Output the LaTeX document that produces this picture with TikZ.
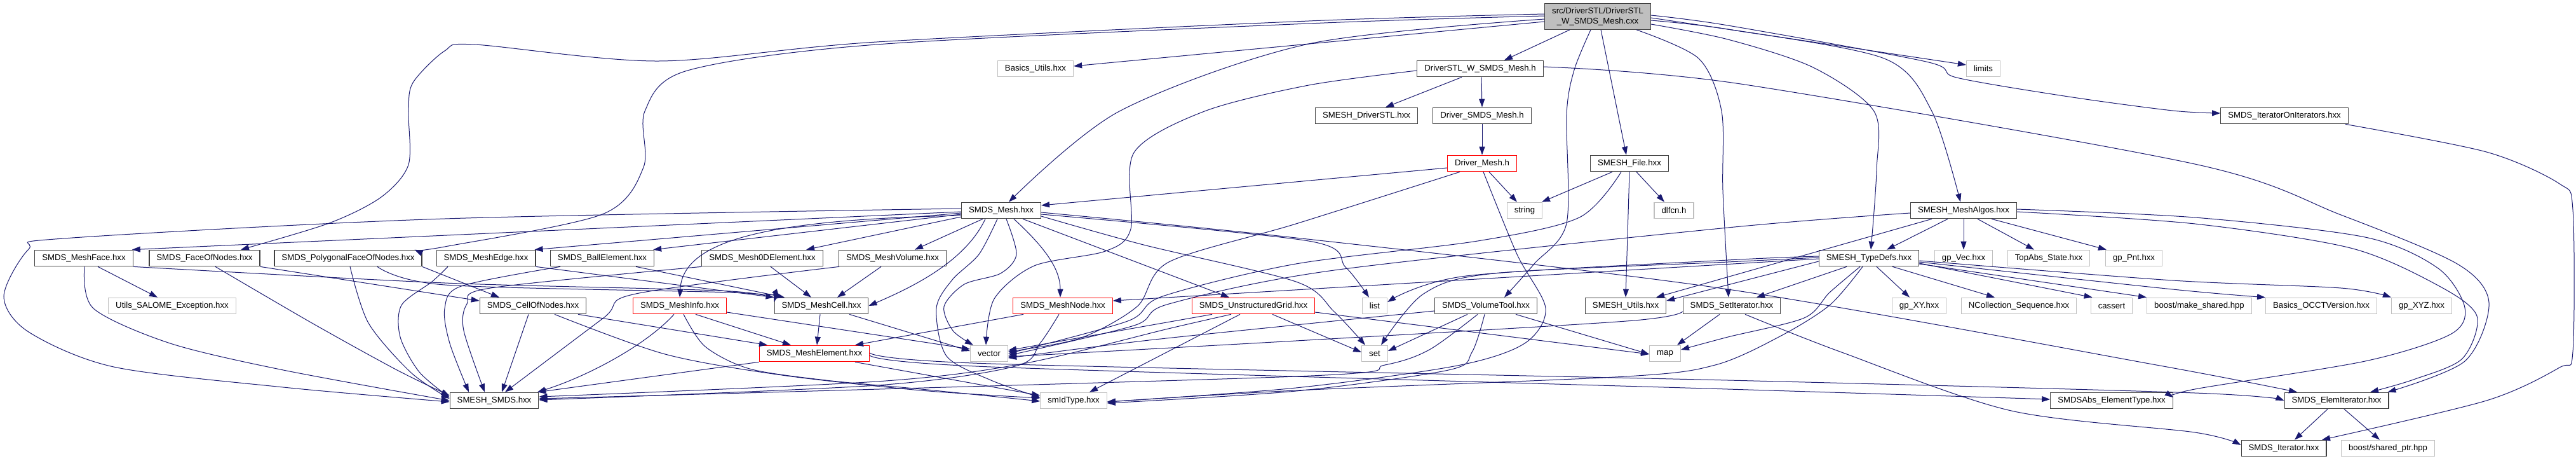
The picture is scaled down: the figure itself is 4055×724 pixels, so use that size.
\documentclass[tikz,border=0pt]{standalone}
\usepackage{fontspec}
\setmainfont{Liberation Sans}
\usetikzlibrary{arrows.meta}
\definecolor{edgeblue}{HTML}{191970}
\definecolor{boxgray}{HTML}{BFBFBF}
\definecolor{boxline}{HTML}{404040}
\tikzset{
    filebox/.style={rectangle, minimum height=25.5pt, inner xsep=11.5pt, inner ysep=0pt, line width=1.2pt, fill=white, font=\fontsize{13.2}{15.2}\selectfont},
    hdr/.style={filebox, draw=boxline},
    ext/.style={filebox, draw=boxgray},
    trunc/.style={filebox, draw=red},
    rootbox/.style={filebox, draw=boxline, fill=boxgray, align=center, minimum height=40.5pt},
    dep/.style={draw=edgeblue, line width=1pt, -{Triangle[length=13pt,width=9pt]}}
}

\begin{document}
\begin{tikzpicture}[x=1pt, y=-1pt]
    \useasboundingbox (0,0) rectangle (4055,724);

    % files
    \node[rootbox] (root) at (2515,26) {src/DriverSTL/DriverSTL\\\_W\_SMDS\_Mesh.cxx};

    \node[ext] (basics) at (1630,108) {Basics\_Utils.hxx};
    \node[hdr] (dsh) at (2330,108) {DriverSTL\_W\_SMDS\_Mesh.h};
    \node[ext] (limits) at (3122,108) {limits};

    \node[hdr] (driverstl) at (2151,182) {SMESH\_DriverSTL.hxx};
    \node[hdr] (driversmds) at (2333,182) {Driver\_SMDS\_Mesh.h};
    \node[hdr] (iteroniter) at (3596,182) {SMDS\_IteratorOnIterators.hxx};

    \node[trunc] (drivermesh) at (2333,257) {Driver\_Mesh.h};
    \node[hdr] (smeshfile) at (2565,257) {SMESH\_File.hxx};

    \node[hdr] (smdsmesh) at (1576,331) {SMDS\_Mesh.hxx};
    \node[ext] (string) at (2400,331) {string};
    \node[ext] (dlfcn) at (2635,331) {dlfcn.h};
    \node[hdr] (meshalgos) at (3091,331) {SMESH\_MeshAlgos.hxx};

    \node[hdr] (meshface) at (132,406) {SMDS\_MeshFace.hxx};
    \node[hdr] (faceofnodes) at (322,406) {SMDS\_FaceOfNodes.hxx};
    \node[hdr] (polyface) at (548,406) {SMDS\_PolygonalFaceOfNodes.hxx};
    \node[hdr] (meshedge) at (765,406) {SMDS\_MeshEdge.hxx};
    \node[hdr] (ballelem) at (948,406) {SMDS\_BallElement.hxx};
    \node[hdr] (mesh0d) at (1200,406) {SMDS\_Mesh0DElement.hxx};
    \node[hdr] (meshvolume) at (1405,406) {SMDS\_MeshVolume.hxx};
    \node[hdr] (typedefs) at (2942,406) {SMESH\_TypeDefs.hxx};
    \node[ext] (gpvec) at (3091,406) {gp\_Vec.hxx};
    \node[ext] (topabs) at (3225,406) {TopAbs\_State.hxx};
    \node[ext] (gppnt) at (3359,406) {gp\_Pnt.hxx};

    \node[ext] (saloexc) at (271,481) {Utils\_SALOME\_Exception.hxx};
    \node[hdr] (cellofnodes) at (839,481) {SMDS\_CellOfNodes.hxx};
    \node[trunc] (meshinfo) at (1070,481) {SMDS\_MeshInfo.hxx};
    \node[hdr] (meshcell) at (1293,481) {SMDS\_MeshCell.hxx};
    \node[trunc] (meshnode) at (1673,481) {SMDS\_MeshNode.hxx};
    \node[trunc] (ugrid) at (1973,481) {SMDS\_UnstructuredGrid.hxx};
    \node[ext] (list) at (2164,481) {list};
    \node[hdr] (volumetool) at (2339,481) {SMDS\_VolumeTool.hxx};
    \node[hdr] (smeshutils) at (2559,481) {SMESH\_Utils.hxx};
    \node[hdr] (setiter) at (2726,481) {SMDS\_SetIterator.hxx};
    \node[ext] (gpxy) at (3021,481) {gp\_XY.hxx};
    \node[ext] (ncollseq) at (3178,481) {NCollection\_Sequence.hxx};
    \node[ext] (cassert) at (3324,481) {cassert};
    \node[ext] (makeshared) at (3462,481) {boost/make\_shared.hpp};
    \node[ext] (occtver) at (3654,481) {Basics\_OCCTVersion.hxx};
    \node[ext] (gpxyz) at (3812,481) {gp\_XYZ.hxx};

    \node[trunc] (meshelem) at (1282,556) {SMDS\_MeshElement.hxx};
    \node[ext] (vector) at (1557,556) {vector};
    \node[ext] (set) at (2164,556) {set};
    \node[ext] (map) at (2621,556) {map};

    \node[hdr] (smeshsmds) at (778,630) {SMESH\_SMDS.hxx};
    \node[ext] (smidtype) at (1690,630) {smIdType.hxx};
    \node[hdr] (sabsetype) at (3324,630) {SMDSAbs\_ElementType.hxx};
    \node[hdr] (elemiter) at (3678,630) {SMDS\_ElemIterator.hxx};

    \node[hdr] (smdsiter) at (3595,705) {SMDS\_Iterator.hxx};
    \node[ext] (sharedptr) at (3759,705) {boost/shared\_ptr.hpp};

    % includes of the .cxx file
    \draw[dep] ([xshift=-44pt]root.south) -- ([xshift=38pt]dsh.north);
    \draw[dep] ([yshift=-8pt]root.west) -- ([yshift=4pt]basics.east);
    \draw[dep] plot[smooth] coordinates {([yshift=4pt]root.west) (2060,33) (1380,66) (1037,96) (747,70) (700,80) (650,130) (643,175) (643,259) (600,310) (518,351) ([xshift=57pt]faceofnodes.north)};
    \draw[dep] plot[smooth] coordinates {([yshift=1pt]root.west) (2060,37) (1380,70) (1082,111) (1015,175) (1013,263) (948,337) (700,388) ([xshift=-12pt]polyface.north east)};
    \draw[dep] plot[smooth] coordinates {([yshift=-4pt]root.west) (2060,69) (1762,175) ([xshift=12pt]smdsmesh.north)};
    \draw[dep] plot[smooth] coordinates {([xshift=-11pt]root.south) (2478,110) (2466,180) (2466,351) (2415,415) ([xshift=29pt]volumetool.north)};
    \draw[dep] ([xshift=5pt]root.south) -- ([xshift=-5pt]smeshfile.north);
    \draw[dep] plot[smooth] coordinates {([xshift=61pt]root.south) (2674,92) (2710,175) (2712,300) ([xshift=-5pt]setiter.north)};
    \draw[dep] plot[smooth] coordinates {([yshift=-12pt]root.east) (2720,62) (2854,106) (2950,175) (2954,268) ([xshift=3pt]typedefs.north)};
    \draw[dep] plot[smooth] coordinates {([yshift=-6pt]root.east) (2720,46) (2966,92) (3041,175) ([xshift=-5pt]meshalgos.north)};
    \draw[dep] ([yshift=-2pt]root.east) -- ([yshift=6pt]limits.west);
    \draw[dep] plot[smooth] coordinates {([yshift=2pt]root.east) (2720,40) (3032,97) (3080,122) (3256,152) (3420,174) ([yshift=4pt]iteroniter.west)};

    % driver headers
    \draw[dep] ([xshift=-29pt]dsh.south) -- ([xshift=30pt]driverstl.north);
    \draw[dep] ([xshift=2pt]dsh.south) -- (driversmds.north);
    \draw[dep] plot[smooth] coordinates {([yshift=-3pt]dsh.west) (2060,134) (1896,175) (1785,240) (1780,360) (1740,395) (1628,418) (1565,470) ([xshift=-5pt]vector.north)};
    \draw[dep] plot[smooth] coordinates {([yshift=3pt]dsh.east) (2740,132) (3455,258) (3685,338) (3868,415) (3918,476) (3880,568) ([xshift=-2pt]elemiter.north east)};
    \draw[dep] (driversmds) -- (drivermesh);
    \draw[dep] ([xshift=11pt]drivermesh.south) -- ([xshift=-12pt]string.north);
    \draw[dep] ([yshift=-7pt]drivermesh.west) -- ([yshift=8pt]smdsmesh.east);
    \draw[dep] plot[smooth] coordinates {([xshift=-35pt]drivermesh.south) (2040,352) (1840,412) (1790,482) (1700,532) ([yshift=3pt]vector.east)};
    \draw[dep] plot[smooth] coordinates {([xshift=2pt]drivermesh.south) (2388,400) (2433,485) (2400,540) (2294,575) (2040,610) ([yshift=-2pt]smidtype.east)};
    \draw[dep] ([xshift=-27pt]smeshfile.south) -- ([xshift=27pt]string.north);
    \draw[dep] ([xshift=11pt]smeshfile.south) -- ([xshift=-15pt]dlfcn.north);
    \draw[dep] (smeshfile.south) -- (smeshutils.north);
    \draw[dep] plot[smooth] coordinates {([xshift=-13pt]smeshfile.south) (2486,342) (2326,379) (2040,415) (1830,466) (1775,505) (vector.east)};

    % SMDS_Mesh.hxx
    \draw[dep] ([yshift=-2pt]smdsmesh.west) -- ([xshift=-2pt]meshface.north east);
    \draw[dep] plot[smooth] coordinates {([yshift=3pt]smdsmesh.west) (700,344) (100,375) (45,392) (6,466) (45,522) (179,577) (446,609) ([yshift=-2pt]smeshsmds.west)};
    \draw[dep] ([yshift=-4pt]smdsmesh.west) -- ([xshift=-2pt]meshedge.north east);
    \draw[dep] ([yshift=-6pt]smdsmesh.west) -- ([xshift=-2pt]ballelem.north east);
    \draw[dep] ([yshift=-10pt]smdsmesh.west) -- ([xshift=69pt]mesh0d.north);
    \draw[dep] ([xshift=-29pt]smdsmesh.south) -- ([xshift=35pt]meshvolume.north);
    \draw[dep] ([xshift=-25pt]smdsmesh.south) .. controls (1520,410) and (1440,450) .. (meshcell.east);
    \draw[dep] ([yshift=-8pt]smdsmesh.west) .. controls (1200,345) and (1075,380) .. (meshinfo.north);
    \draw[dep] ([xshift=20pt]smdsmesh.south) .. controls (1640,385) and (1669,420) .. ([xshift=-4pt]meshnode.north);
    \draw[dep] ([xshift=34pt]smdsmesh.south) -- ([xshift=-38pt]ugrid.north);
    \draw[dep] plot[smooth] coordinates {([xshift=8pt]smdsmesh.south) (1600,400) (1575,430) (1518,447) (1486,482) (1500,520) ([xshift=-25pt]vector.north)};
    \draw[dep] plot[smooth] coordinates {([xshift=-6pt]smdsmesh.south) (1541,400) (1499,440) (1474,485) (1490,560) (1560,598) ([yshift=5pt]smidtype.west)};
    \draw[dep] plot[smooth] coordinates {([yshift=-6pt]smdsmesh.east) (2060,379) (2118,420) ([xshift=-9pt]list.north)};
    \draw[dep] plot[smooth] coordinates {([yshift=-9pt]smdsmesh.east) (1800,385) (2040,443) (2100,490) ([xshift=-15pt]set.north)};
    \draw[dep] plot[smooth] coordinates {([yshift=-3pt]smdsmesh.east) (2040,374) (2720,455) (3400,575) ([xshift=-62pt]elemiter.north)};

    % SMESH_MeshAlgos.hxx
    \draw[dep] ([xshift=-25pt]meshalgos.south) -- ([xshift=28pt]typedefs.north);
    \draw[dep] (meshalgos.south) -- (gpvec.north);
    \draw[dep] ([xshift=22pt]meshalgos.south) -- ([xshift=-23pt]topabs.north);
    \draw[dep] ([xshift=44pt]meshalgos.south) -- ([xshift=2pt]gppnt.north west);
    \draw[dep] plot[smooth] coordinates {([yshift=-4pt]meshalgos.west) (2720,358) (2100,425) (1840,478) (1785,512) ([yshift=-3pt]vector.east)};
    \draw[dep] ([xshift=-50pt]meshalgos.south) -- ([xshift=48pt]smeshutils.north);
    \draw[dep] plot[smooth] coordinates {([yshift=-2pt]meshalgos.east) (3455,352) (3700,390) (3838,449) (3899,497) (3876,564) (3799,597) ([xshift=53pt]elemiter.north)};
    \draw[dep] plot[smooth] coordinates {([yshift=2pt]meshalgos.east) (3455,342) (3723,373) (3838,422) (3880,484) (3857,526) (3723,568) (3455,612) ([yshift=5pt]sabsetype.east)};

    % SMESH_TypeDefs.hxx
    \draw[dep] ([yshift=-5pt]typedefs.west) -- ([yshift=8pt]smeshutils.east);
    \draw[dep] ([xshift=-35pt]typedefs.south) -- ([xshift=39pt]setiter.north);
    \draw[dep] plot[smooth] coordinates {([yshift=3pt]typedefs.west) (2720,409) (2308,434) ([yshift=6pt]list.east)};
    \draw[dep] plot[smooth] coordinates {([yshift=1pt]typedefs.west) (2720,412) (2352,430) (2241,462) ([xshift=10pt]set.north)};
    \draw[dep] ([yshift=-1pt]typedefs.west) -- ([yshift=8pt]meshnode.east);
    \draw[dep] plot[smooth] coordinates {([xshift=-14pt]typedefs.south) (2880,460) (2840,500) (2720,530) ([yshift=6pt]map.east)};
    \draw[dep] plot[smooth] coordinates {([xshift=-10pt]typedefs.south) (2880,480) (2800,530) (2700,574) (2560,592) (2040,614) ([yshift=-2pt]smidtype.east)};
    \draw[dep] ([xshift=12pt]typedefs.south) -- ([xshift=-15pt]gpxy.north);
    \draw[dep] ([xshift=37pt]typedefs.south) -- ([xshift=-38pt]ncollseq.north);
    \draw[dep] ([yshift=-8pt]typedefs.east) -- ([xshift=3pt]cassert.north west);
    \draw[dep] ([yshift=-9pt]typedefs.east) -- (makeshared.north west);
    \draw[dep] plot[smooth] coordinates {([yshift=-6pt]typedefs.east) (3420,455) (occtver.north west)};
    \draw[dep] plot[smooth] coordinates {([yshift=-4pt]typedefs.east) (3420,441) (3685,453) (gpxyz.north west)};

    % SMDS_SetIterator.hxx, SMDS_VolumeTool.hxx
    \draw[dep] ([xshift=-19pt]setiter.south) -- ([xshift=19pt]map.north);
    \draw[dep] plot[smooth] coordinates {([yshift=-9pt]setiter.west) (2560,505) (2040,536) ([yshift=-5pt]vector.east)};
    \draw[dep] plot[smooth] coordinates {([xshift=21pt]setiter.south) (2899,554) (3166,646) (3455,680) ([yshift=5pt]smdsiter.west)};
    \draw[dep] ([xshift=-29pt]volumetool.south) -- ([yshift=4pt]set.east);
    \draw[dep] plot[smooth] coordinates {([yshift=-8pt]volumetool.west) (2040,511) (1800,536) ([yshift=-7pt]vector.east)};
    \draw[dep] ([xshift=47pt]volumetool.south) -- ([yshift=-1pt]map.west);
    \draw[dep] plot[smooth] coordinates {([xshift=-13pt]volumetool.south) (2250,550) (2180,574) (2040,592) ([yshift=3pt]smeshsmds.east)};
    \draw[dep] plot[smooth] coordinates {([xshift=-2pt]volumetool.south) (2317,554) (2280,582) (2040,615) ([yshift=-4pt]smidtype.east)};

    % SMDS_UnstructuredGrid.hxx, SMDS_MeshNode.hxx
    \draw[dep] ([xshift=-65pt]ugrid.south) -- ([yshift=5pt]vector.east);
    \draw[dep] plot[smooth] coordinates {([xshift=-35pt]ugrid.south) (1839,517) (1610,572) (1380,600) ([yshift=6pt]smeshsmds.east)};
    \draw[dep] ([xshift=-21pt]ugrid.south) -- ([xshift=25pt]smidtype.north);
    \draw[dep] ([xshift=30pt]ugrid.south) -- ([yshift=2pt]set.west);
    \draw[dep] ([yshift=-10pt]ugrid.east) -- ([yshift=-1pt]map.west);
    \draw[dep] ([xshift=-62pt]meshnode.south) -- ([xshift=64pt]meshelem.north);
    \draw[dep] plot[smooth] coordinates {([xshift=-6pt]meshnode.south) (1637,540) (1598,576) (1380,606) ([yshift=1pt]smeshsmds.east)};

    % cells and elements
    \draw[dep] ([xshift=-2pt]meshcell.south) -- ([xshift=4pt]meshelem.north);
    \draw[dep] ([xshift=44pt]meshcell.south) -- ([yshift=4pt]vector.west);
    \draw[dep] ([xshift=-9pt]meshinfo.south) .. controls (1020,540) and (930,590) .. ([xshift=68pt]smeshsmds.north);
    \draw[dep] ([xshift=25pt]meshinfo.south) -- ([xshift=-37pt]meshelem.north);
    \draw[dep] plot[smooth] coordinates {([xshift=6pt]meshinfo.south) (1110,545) (1180,580) (1300,598) (1450,612) ([yshift=-1pt]smidtype.west)};
    \draw[dep] ([yshift=-10pt]meshinfo.east) -- ([yshift=7pt]vector.west);
    \draw[dep] ([xshift=-7pt]cellofnodes.south) -- ([xshift=12pt]smeshsmds.north);
    \draw[dep] ([xshift=71pt]cellofnodes.south) -- ([xshift=-74pt]meshelem.north);
    \draw[dep] plot[smooth] coordinates {([xshift=34pt]cellofnodes.south) (1047,557) (1231,590) (1450,614) ([yshift=4pt]smidtype.west)};
    \draw[dep] (meshelem.south west) -- ([xshift=-2pt]smeshsmds.north east);
    \draw[dep] ([xshift=64pt]meshelem.south) -- ([yshift=8pt]smidtype.west);
    \draw[dep] plot[smooth] coordinates {([yshift=-3pt]meshelem.east) (1560,577) (2720,612) ([yshift=2pt]sabsetype.west)};
    \draw[dep] plot[smooth] coordinates {([yshift=1pt]meshelem.east) (1560,572) (2720,598) (3455,618) (elemiter.west)};

    \draw[dep] ([xshift=53pt]ballelem.south) -- ([xshift=-58pt]meshcell.north);
    \draw[dep] plot[smooth] coordinates {([xshift=-66pt]ballelem.south) (726,450) (700,485) (708,540) ([xshift=-40pt]smeshsmds.north)};
    \draw[dep] ([xshift=13pt]mesh0d.south) -- ([xshift=-16pt]meshcell.north);
    \draw[dep] plot[smooth] coordinates {(mesh0d.south west) (772,453) (735,478) (730,520) ([xshift=-15pt]smeshsmds.north)};
    \draw[dep] ([xshift=-18pt]meshvolume.south) -- ([xshift=25pt]meshcell.north);
    \draw[dep] plot[smooth] coordinates {([xshift=-84pt]meshvolume.south) (1001,462) (950,500) ([xshift=17pt]smeshsmds.north)};
    \draw[dep] (meshedge.south east) -- (meshcell.north west);
    \draw[dep] plot[smooth] coordinates {([xshift=-60pt]meshedge.south) (680,443) (632,480) (630,530) (660,585) ([yshift=5pt]smeshsmds.west)};

    % faces
    \draw[dep] (faceofnodes.south east) -- ([yshift=8pt]cellofnodes.west);
    \draw[dep] plot[smooth] coordinates {([xshift=17pt]faceofnodes.south) (491,508) (625,582) ([yshift=8pt]smeshsmds.west)};
    \draw[dep] (polyface.south east) -- ([xshift=-53pt]cellofnodes.north);
    \draw[dep] plot[smooth] coordinates {([xshift=46pt]polyface.south) (700,448) (1150,460) ([xshift=8pt]meshcell.north west)};
    \draw[dep] plot[smooth] coordinates {([xshift=3pt]polyface.south) (580,508) (647,586) ([yshift=3pt]smeshsmds.west)};
    \draw[dep] plot[smooth] coordinates {(meshface.south east) (700,445) (1150,458) ([yshift=6pt]meshcell.west)};
    \draw[dep] ([xshift=22pt]meshface.south) -- ([xshift=-23pt]saloexc.north);
    \draw[dep] plot[smooth] coordinates {([xshift=1pt]meshface.south) (147,485) (268,540) (446,582) (smeshsmds.west)};

    % iterators
    \draw[dep] ([xshift=-14pt]elemiter.south) -- ([xshift=17pt]smdsiter.north);
    \draw[dep] ([xshift=12pt]elemiter.south) -- ([xshift=-13pt]sharedptr.north);
    \draw[dep] plot[smooth] coordinates {([xshift=96pt]iteroniter.south) (3914,239) (4029,289) (4050,330) (4050,553) (4029,578) (3914,630) ([xshift=60pt]smdsiter.north)};
\end{tikzpicture}
\end{document}
